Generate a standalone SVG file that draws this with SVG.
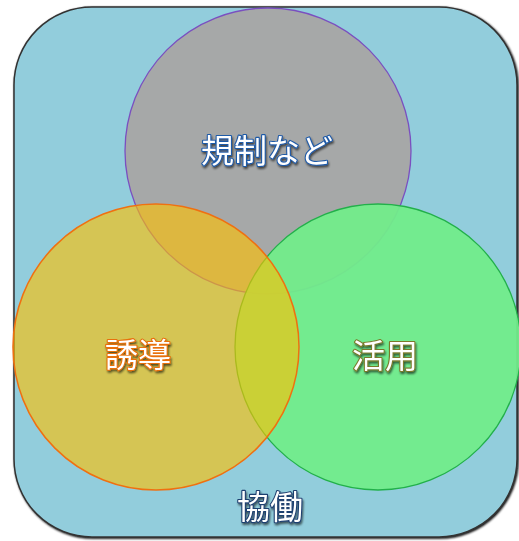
<svg xmlns="http://www.w3.org/2000/svg" width="519" height="541" viewBox="0 0 519 541">
<defs>
<filter id="glow" x="-20%" y="-40%" width="140%" height="180%">
<feGaussianBlur in="SourceAlpha" stdDeviation="1.2" result="b"/>
<feOffset in="b" dx="1" dy="1.5" result="o"/>
<feComponentTransfer in="o" result="s"><feFuncA type="linear" slope="0.6"/></feComponentTransfer>
<feMerge><feMergeNode in="s"/><feMergeNode in="SourceGraphic"/></feMerge>
</filter>
<filter id="shadow" x="-5%" y="-5%" width="110%" height="110%">
<feGaussianBlur in="SourceAlpha" stdDeviation="1" result="b"/>
<feOffset in="b" dx="1" dy="1" result="o"/>
<feMerge><feMergeNode in="o"/><feMergeNode in="SourceGraphic"/></feMerge>
</filter>
</defs>
<style>
.lbl{font-family:"Noto Sans CJK JP","Noto Sans CJK SC",sans-serif;font-size:33px;fill:#ffffff;stroke-width:2.2px;paint-order:stroke;stroke-linejoin:round;text-anchor:middle;filter:url(#glow)}
</style>
<g id="frame">
<rect x="14" y="7" width="503" height="530" rx="78" ry="78" fill="#92CDDC" stroke="#333333" stroke-width="1.5" filter="url(#shadow)"/>
</g>
<g id="kisei">
<circle cx="268" cy="151" r="143" fill="#A6A6A6" fill-opacity="0.97" stroke="#7A4FC0" stroke-width="1.3"/>
</g>
<g id="katsuyo">
<circle cx="378" cy="347" r="143" fill="#72EC8A" fill-opacity="0.95" stroke="#22B04A" stroke-width="1.3"/>
</g>
<g id="yudo">
<circle cx="156" cy="347" r="143" fill="#FFC000" fill-opacity="0.62" stroke="#F07010" stroke-width="1.5"/>
</g>
<g id="labels">
<text class="lbl" x="267" y="163" stroke="#1F5AA8">規制など</text>
<text class="lbl" x="138" y="367" stroke="#E8700A">誘導</text>
<text class="lbl" x="385" y="368" stroke="#7A7A2A">活用</text>
<text class="lbl" x="270" y="519" stroke="#1F3F70">協働</text>
</g>
<g id="connectors"></g>
</svg>
